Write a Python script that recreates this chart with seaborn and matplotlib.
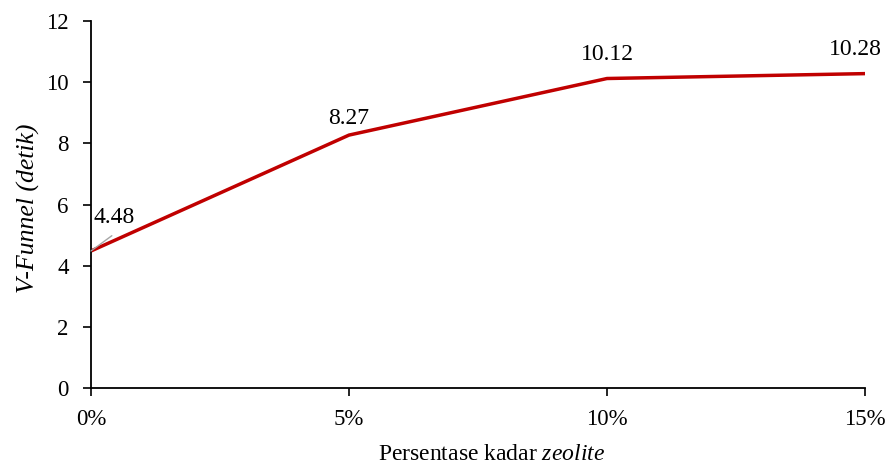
import matplotlib
matplotlib.use("Agg")
import matplotlib.pyplot as plt
import seaborn as sns
import pandas as pd

categories = ["0%", "5%", "10%", "15%"]
v_funnel = [4.48, 8.27, 10.12, 10.28]
y_ticks = [0, 2, 4, 6, 8, 10, 12]

sns.set_theme(style="ticks")
plt.rcParams["font.family"] = ["Liberation Serif", "DejaVu Serif"]
plt.rcParams["mathtext.fontset"] = "custom"
plt.rcParams["mathtext.rm"] = "Liberation Serif"
plt.rcParams["mathtext.it"] = "Liberation Serif:italic"
plt.rcParams["text.color"] = "black"
plt.rcParams["axes.labelcolor"] = "black"

df = pd.DataFrame({"pos": range(len(categories)), "kadar": categories, "waktu": v_funnel})

fig = plt.figure(figsize=(8.86, 4.65), dpi=100)
ax = fig.add_axes([0.1027, 0.1656, 0.8736, 0.7892])

sns.lineplot(data=df, x="pos", y="waktu", ax=ax, color="#C00000", linewidth=2.5)

ax.set_xlim(0, len(categories) - 1)
ax.set_ylim(0, 12)
ax.set_xticks(range(len(categories)))
ax.set_xticklabels(categories)
ax.set_yticks(y_ticks)
ax.tick_params(axis="both", labelsize=16.5, colors="black", direction="out",
               length=6, width=1.2)
ax.tick_params(axis="x", pad=9)
ax.tick_params(axis="y", pad=10)
for side in ["top", "right"]:
    ax.spines[side].set_visible(False)
for side in ["left", "bottom"]:
    ax.spines[side].set_linewidth(1.3)
    ax.spines[side].set_color("black")

ax.set_ylabel("V-Funnel (detik)", fontsize=18.5, style="italic")
ax.yaxis.set_label_coords(-0.066, 0.49)
ax.set_xlabel(r"Persentase kadar $\mathit{zeolite}$", fontsize=17)
ax.xaxis.set_label_coords(0.517, -0.152)

# value labels, offsets in points from each data point
offsets = [(17, 24), (0, 12), (0, 17.5), (-7, 17.5)]
for i, (v, off) in enumerate(zip(v_funnel, offsets)):
    ax.annotate(f"{v:.2f}", xy=(i, v), xytext=off, textcoords="offset points",
                ha="center", va="center", fontsize=17, color="black")

# leader line for the first label
ax.annotate("", xy=(0, v_funnel[0]), xytext=(15, 11), textcoords="offset points",
            arrowprops=dict(arrowstyle="-", color="#A6A6A6", lw=1.0, shrinkA=0, shrinkB=0))

fig.savefig("out.png", dpi=100)
